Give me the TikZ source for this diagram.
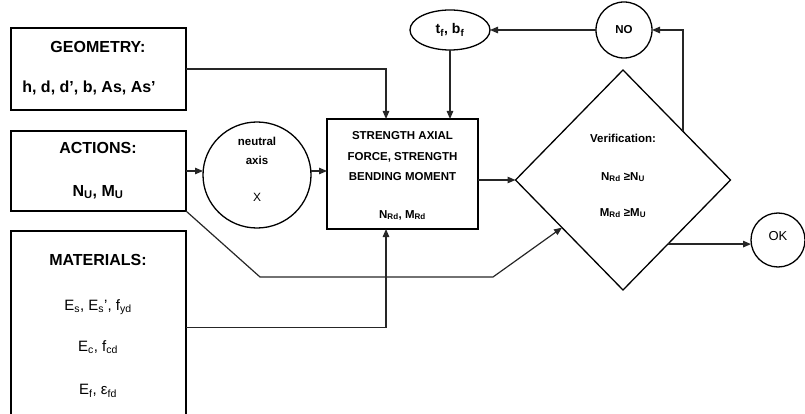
\documentclass[tikz,border=0pt]{standalone}
\usepackage{fontspec}
\setmainfont{Liberation Sans}
\usetikzlibrary{shapes.geometric,arrows.meta}
\begin{document}
\begin{tikzpicture}[x=1pt,y=-1pt,
  box/.style={draw,line width=1.3pt,inner sep=0pt,outer sep=0pt},
  conn/.style={line width=1.2pt,draw=black!85},
  arr/.style={conn,-{Triangle[length=8pt,width=6.5pt]}},
  txt/.style={inner sep=0pt},
  head/.style={txt,font=\bfseries\fontsize{16}{18}\selectfont},
  var/.style={txt,font=\fontsize{15}{17}\selectfont},
  small/.style={txt,font=\bfseries\fontsize{11.5}{13}\selectfont},
]
\useasboundingbox (0,0) rectangle (805,414);
\begin{scope}
\clip (0,0) rectangle (805,414);
% boxes
\node[box,minimum width=175pt,minimum height=82pt] (geo) at (98.5,69) {};
\node[box,minimum width=175pt,minimum height=80pt] (act) at (98.5,171) {};
\node[box,minimum width=175pt,minimum height=193pt] (mat) at (98.5,327.5) {};
\node[box,ellipse,minimum width=108pt,minimum height=106pt] (na) at (257,175) {};
\node[box,minimum width=151pt,minimum height=110pt] (str) at (402.5,174) {};
\node[box,ellipse,minimum width=80pt,minimum height=40pt] (tf) at (450,30) {};
\node[box,circle,minimum size=56pt] (no) at (624,30) {};
\node[box,diamond,minimum width=215pt,minimum height=220pt] (dia) at (623,180) {};
\node[box,circle,minimum size=54pt] (ok) at (778,240) {};
% texts
\node[head] (geoA) at (98,47) {GEOMETRY:};
\node[head] (geoB) at (89,88) {h, d, d’, b, As, As’};
\node[head] (actA) at (98,148) {ACTIONS:};
\node[head] (actB) at (98,192) {N\textsubscript{U}, M\textsubscript{U}};
\node[head] (matA) at (98,260) {MATERIALS:};
\node[var] (matB) at (98,307) {E\textsubscript{s}, E\textsubscript{s}’, f\textsubscript{yd}};
\node[var] (matC) at (98,347) {E\textsubscript{c}, f\textsubscript{cd}};
\node[var] (matD) at (98,391) {E\textsubscript{f}, ε\textsubscript{fd}};
\node[small] (strA) at (402.5,136) {STRENGTH AXIAL};
\node[small] (strB) at (402.5,157) {FORCE, STRENGTH};
\node[small] (strC) at (402.5,177) {BENDING MOMENT};
\node[small] (strD) at (402.5,215) {N\textsubscript{Rd}, M\textsubscript{Rd}};
\node[small] (naA) at (257,141) {neutral};
\node[small] (naB) at (257,160) {axis};
\node[txt,font=\fontsize{12}{14}\selectfont] (naC) at (257,197) {X};
\node[txt,font=\bfseries\fontsize{14}{16}\selectfont] (tfA) at (450,30) {t\textsubscript{f}, b\textsubscript{f}};
\node[small] (noA) at (624,30) {NO};
\node[small] (diaA) at (623,138) {Verification:};
\node[small] (diaB) at (623,177) {N\textsubscript{Rd} ≥N\textsubscript{U}};
\node[small] (diaC) at (623,213) {M\textsubscript{Rd} ≥M\textsubscript{U}};
\node[txt,font=\fontsize{13}{15}\selectfont] (okA) at (778,236) {OK};
% connectors
\coordinate (k1) at (260,277);
\coordinate (k2) at (493,277);
\draw[arr] (geo.east) -| ([xshift=-16.5pt]str.north);
\draw[arr] (tf.south) -- (tf.south |- str.north);
\draw[arr] (act.east) -- (act.east -| na.west);
\draw[arr] (act.east -| na.east) -- (act.east -| str.west);
\draw[arr] (str.east |- dia.west) -- (dia.west);
\draw[arr] (act.south east) -- (k1) -- (k2) -- (dia.218);
\draw[arr] (mat.east) -| ([xshift=-16.5pt]str.south);
\draw[arr] (dia.39) |- (no.east);
\draw[arr] (no.west) -- (tf.east);
\draw[arr] (dia.-55) -- (dia.-55 -| ok.west);
\end{scope}
\end{tikzpicture}
\end{document}
